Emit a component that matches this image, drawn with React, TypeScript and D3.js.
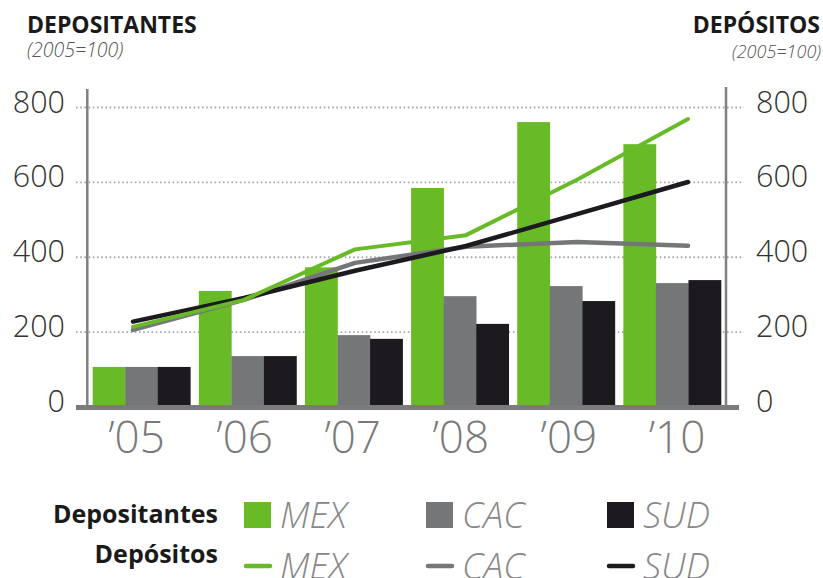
import * as d3 from "d3";
import { useEffect, useRef } from "react";

// years / labels
const years = ["2005", "2006", "2007", "2008", "2009", "2010"];
const yearLabels = ["\u201905", "\u201906", "\u201907", "\u201908", "\u201909", "\u201910"];
const regions = ["MEX", "CAC", "SUD"];
const yTicks = [0, 200, 400, 600, 800];

// Depositantes (bars), 2005=100
const depositantesMEX = [107, 310, 373, 585, 761, 702];
const depositantesCAC = [107, 136, 192, 296, 323, 331];
const depositantesSUD = [107, 136, 182, 222, 283, 339];

// Depositos (lines), 2005=100
const depositosMEX = [214, 286, 421, 459, 607, 769];
const depositosCAC = [206, 286, 385, 428, 441, 431];
const depositosSUD = [228, 291, 364, 430, 515, 601];

const colors: Record<string, string> = { MEX: "#68bb27", CAC: "#757678", SUD: "#1c1a1f" };
const FONT = "'Open Sans', 'DejaVu Sans', sans-serif";

export default function App() {
    const svgRef = useRef<SVGSVGElement | null>(null);
    const width = 823, height = 578;

    useEffect(() => {
        const svg = d3.select(svgRef.current);
        svg.selectAll("*").remove();

        const y = d3.scaleLinear().domain([0, 800]).range([407, 107.5]);
        const x0 = d3.scaleBand().domain(years).range([92.7, 721]).paddingInner(0.08).paddingOuter(0);
        const x1 = d3.scaleBand().domain(regions).range([0, x0.bandwidth()]);
        const xLine = d3.scalePoint().domain(years).range([133, 688]);
        const xLabel = d3.scalePoint().domain(years).range([136.5, 677]);

        const barData = [
            { key: "MEX", values: depositantesMEX },
            { key: "CAC", values: depositantesCAC },
            { key: "SUD", values: depositantesSUD },
        ];
        const lineData = [
            { key: "CAC", values: depositosCAC, w: 4.5 },
            { key: "SUD", values: depositosSUD, w: 4.5 },
            { key: "MEX", values: depositosMEX, w: 4 },
        ];

        // dotted gridlines
        svg.append("g").selectAll("line")
            .data(yTicks.filter(d => d > 0))
            .enter().append("line")
            .attr("x1", 76).attr("x2", 744)
            .attr("y1", d => y(d)).attr("y2", d => y(d))
            .attr("stroke", "#a8a8a8")
            .attr("stroke-width", 1.8)
            .attr("stroke-dasharray", "1.6 2.6");

        // bars
        const groups = svg.append("g").selectAll("g")
            .data(years)
            .enter().append("g")
            .attr("transform", d => `translate(${x0(d)},0)`);

        groups.selectAll("rect")
            .data((d, i) => barData.map(s => ({ key: s.key, value: s.values[i] })))
            .enter().append("rect")
            .attr("x", d => x1(d.key)!)
            .attr("width", x1.bandwidth() + 0.3)
            .attr("y", d => y(d.value))
            .attr("height", d => y(0) - y(d.value))
            .attr("fill", d => colors[d.key]);

        // axes lines
        svg.append("line")
            .attr("x1", 87.3).attr("x2", 87.3).attr("y1", 89).attr("y2", 407)
            .attr("stroke", "#808080").attr("stroke-width", 2.5);
        svg.append("line")
            .attr("x1", 726).attr("x2", 726).attr("y1", 87).attr("y2", 407)
            .attr("stroke", "#808080").attr("stroke-width", 2.5);
        svg.append("line")
            .attr("x1", 76).attr("x2", 739).attr("y1", y(0) + 0.5).attr("y2", y(0) + 0.5)
            .attr("stroke", "#7b7b7b").attr("stroke-width", 5);

        // lines
        const line = d3.line<number>()
            .x((d, i) => xLine(years[i])!)
            .y(d => y(d));

        svg.append("g").selectAll("path")
            .data(lineData)
            .enter().append("path")
            .attr("d", d => line(d.values))
            .attr("fill", "none")
            .attr("stroke", d => colors[d.key])
            .attr("stroke-width", d => d.w)
            .attr("stroke-linecap", "round")
            .attr("stroke-linejoin", "round");

        // y tick labels, left + right
        svg.append("g").selectAll("text")
            .data(yTicks)
            .enter().append("text")
            .attr("x", 65).attr("y", d => y(d) + 5)
            .attr("text-anchor", "end")
            .style("font-family", FONT).style("font-weight", 300)
            .style("font-size", "30.5px").attr("fill", "#333")
            .text(d => d);
        svg.append("g").selectAll("text")
            .data(yTicks)
            .enter().append("text")
            .attr("x", 756).attr("y", d => y(d) + 5)
            .style("font-family", FONT).style("font-weight", 300)
            .style("font-size", "30.5px").attr("fill", "#333")
            .text(d => d);

        // x labels
        svg.append("g").selectAll("text")
            .data(years)
            .enter().append("text")
            .attr("x", d => xLabel(d)!).attr("y", 453)
            .attr("text-anchor", "middle")
            .style("font-family", FONT).style("font-weight", 300)
            .style("font-size", "44px").attr("fill", "#7a7a7a")
            .text((d, i) => yearLabels[i]);

        // titles
        svg.append("text").attr("x", 27).attr("y", 33)
            .style("font-family", FONT).style("font-weight", 700).style("font-size", "23px")
            .attr("fill", "#1a1a1a").text("DEPOSITANTES");
        svg.append("text").attr("x", 27).attr("y", 57)
            .style("font-family", FONT).style("font-weight", 300).style("font-style", "italic")
            .style("font-size", "19.5px").attr("fill", "#555").text("(2005=100)");
        svg.append("text").attr("x", 820).attr("y", 33).attr("text-anchor", "end")
            .style("font-family", FONT).style("font-weight", 700).style("font-size", "23px")
            .attr("fill", "#1a1a1a").text("DEPÓSITOS");
        svg.append("text").attr("x", 821).attr("y", 58).attr("text-anchor", "end")
            .style("font-family", FONT).style("font-weight", 300).style("font-style", "italic")
            .style("font-size", "18px").attr("fill", "#555").text("(2005=100)");

        // legend
        const legendX = [244, 426, 607];
        const legend = svg.append("g");
        legend.append("text").attr("x", 218).attr("y", 523).attr("text-anchor", "end")
            .style("font-family", FONT).style("font-weight", 700).style("font-size", "25px")
            .attr("fill", "#1a1a1a").text("Depositantes");
        legend.append("text").attr("x", 218).attr("y", 563).attr("text-anchor", "end")
            .style("font-family", FONT).style("font-weight", 700).style("font-size", "25px")
            .attr("fill", "#1a1a1a").text("Depósitos");

        const items = legend.selectAll(".legend-item")
            .data(regions)
            .enter().append("g")
            .attr("class", "legend-item")
            .attr("transform", (d, i) => `translate(${legendX[i]},0)`);

        items.append("rect")
            .attr("x", 0).attr("y", 502).attr("width", 27).attr("height", 26)
            .attr("fill", d => colors[d]);
        items.append("line")
            .attr("x1", 2).attr("x2", 26).attr("y1", 566).attr("y2", 566)
            .attr("stroke", d => colors[d]).attr("stroke-width", 4.5)
            .attr("stroke-linecap", "round");
        items.append("text")
            .attr("x", 36).attr("y", 528)
            .style("font-family", FONT).style("font-weight", 300).style("font-style", "italic")
            .style("font-size", "36px").attr("fill", "#888")
            .text(d => d);
        items.append("text")
            .attr("x", 36).attr("y", 579)
            .style("font-family", FONT).style("font-weight", 300).style("font-style", "italic")
            .style("font-size", "36px").attr("fill", "#888")
            .text(d => d);
    }, []);

    return (
        <svg
            ref={svgRef}
            width={width}
            height={height}
            style={{ position: "absolute", left: 0, top: 0, background: "#fff" }}
        />
    );
}
